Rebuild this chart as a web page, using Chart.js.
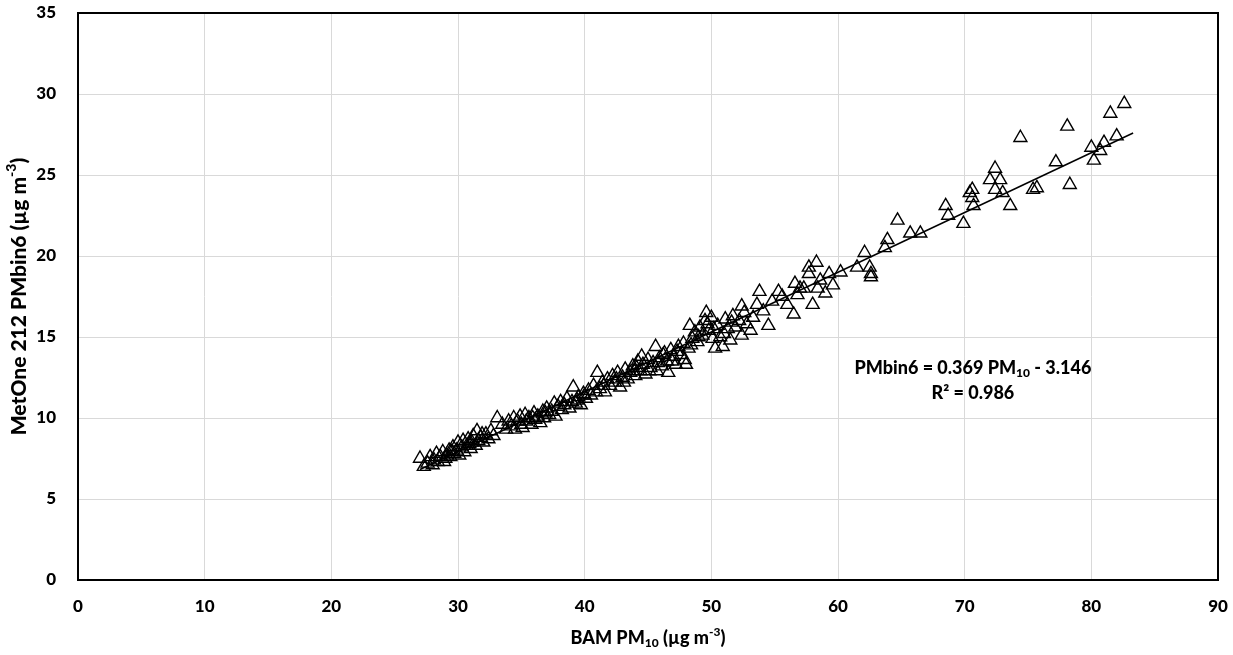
<!DOCTYPE html>
<html>
<head>
<meta charset="utf-8">
<script src="https://cdn.jsdelivr.net/npm/chart.js@4.4.0/dist/chart.umd.min.js"></script>
<style>
    html, body { margin: 0; padding: 0; background: #ffffff; }
    #wrap { position: relative; width: 1233px; height: 655px; }
</style>
</head>
<body>
<div id="wrap"><canvas id="pmChart"></canvas></div>
<script>
// BAM PM10 (x) vs MetOne 212 PMbin6 (y)
const bamPm10 = [
    27.0, 27.3, 27.6, 27.8, 28.0, 28.1, 28.3, 28.4, 28.6, 28.8,
    29.0, 29.1, 29.3, 29.4, 29.6, 29.7, 29.9, 30.0, 30.1, 30.3,
    30.4, 30.5, 30.7, 30.8, 31.0, 31.1, 31.2, 31.4, 31.5, 31.6,
    31.8, 32.0, 32.2, 32.4, 32.6, 32.8, 33.1, 33.5, 33.8, 34.0,
    34.2, 34.4, 34.5, 34.7, 34.9, 35.0, 35.1, 35.3, 35.4, 35.6,
    35.8, 36.0, 36.1, 36.3, 36.5, 36.7, 36.8, 37.0, 37.2, 37.4,
    37.6, 37.7, 37.9, 38.1, 38.2, 38.4, 38.6, 38.8, 39.0, 39.1,
    39.3, 39.5, 39.7, 39.9, 40.1, 40.3, 40.5, 40.7, 40.9, 41.0,
    41.2, 41.4, 41.6, 41.8, 42.0, 42.2, 42.4, 42.6, 42.8, 43.0,
    43.2, 43.4, 43.6, 43.8, 44.0, 44.2, 44.4, 44.6, 44.8, 45.0,
    45.2, 45.4, 45.6, 45.7, 45.9, 46.1, 46.3, 46.5, 46.6, 46.8,
    47.0, 47.2, 47.4, 47.6, 47.8, 48.0, 48.2, 48.3, 48.5, 48.7,
    48.9, 49.1, 49.3, 49.5, 49.6, 49.8, 50.0, 50.1, 50.3, 50.5,
    50.7, 50.9, 51.1, 51.3, 51.5, 51.7, 51.9, 52.2, 52.4, 52.4,
    52.6, 52.8, 53.1, 53.3, 53.6, 53.8, 54.1, 54.5, 54.8, 55.3,
    55.6, 56.0, 56.5, 56.6, 56.8, 57.0, 57.3, 57.7, 57.7, 58.0,
    58.3, 58.4, 58.6, 59.0, 59.3, 59.6, 60.2, 61.5, 62.1, 62.5,
    62.6, 62.6, 63.7, 63.9, 64.7, 65.7, 66.5, 68.5, 68.7, 69.9,
    70.4, 70.6, 70.6, 70.7, 72.0, 72.4, 72.4, 72.8, 73.0, 73.6,
    74.4, 75.4, 75.7, 77.2, 78.1, 78.3, 80.0, 80.2, 80.7, 81.0,
    81.5, 82.0, 82.6,
    43.1, 43.9, 44.5, 45.1, 45.8, 46.2, 46.9, 47.3, 47.9, 48.4,
    49.0, 49.7, 50.2, 51.0, 51.6, 44.1, 42.5, 41.5, 40.0, 39.4,
    36.9, 35.9, 31.9, 30.9, 29.5, 28.9
];
const metOneBin6 = [
    7.5, 7.0, 7.2, 7.6, 7.1, 7.4, 7.8, 7.3, 7.6, 7.9,
    7.5, 7.7, 8.0, 7.6, 8.2, 7.8, 8.0, 8.5, 7.7, 8.2,
    8.6, 7.9, 8.3, 8.7, 8.1, 8.5, 8.9, 8.3, 9.2, 8.6,
    8.8, 8.5, 9.0, 8.7, 9.2, 8.9, 10.0, 9.6, 9.3, 9.8,
    9.5, 10.0, 9.3, 9.8, 10.1, 9.6, 9.4, 10.2, 9.8, 10.0,
    9.6, 10.3, 9.9, 10.1, 9.7, 10.4, 10.0, 10.6, 10.2, 10.4,
    10.9, 10.1, 10.7, 11.0, 10.5, 10.8, 11.2, 10.6, 11.0, 11.9,
    10.9, 11.3, 10.8, 11.5, 11.2, 11.7, 11.4, 12.0, 11.6, 12.8,
    11.8, 12.2, 11.6, 12.4, 12.0, 12.6, 12.2, 12.8, 11.9, 12.5,
    13.0, 12.4, 12.8, 13.2, 12.6, 13.5, 12.9, 13.3, 12.7, 13.6,
    13.1, 13.4, 14.4, 12.9, 13.7, 13.2, 14.0, 13.5, 12.8, 14.2,
    13.8, 13.3, 14.4, 13.9, 14.6, 13.3, 14.3, 15.7, 14.9, 15.3,
    14.7, 15.6, 15.1, 16.0, 16.5, 15.4, 16.2, 14.9, 14.3, 15.7,
    15.0, 14.4, 16.1, 15.5, 14.8, 16.3, 15.6, 16.0, 16.9, 15.1,
    16.5, 15.8, 15.4, 16.2, 17.0, 17.8, 16.6, 15.7, 17.2, 17.8,
    17.5, 17.0, 16.4, 18.3, 17.6, 18.0, 18.0, 19.3, 18.9, 17.0,
    19.6, 18.0, 18.5, 17.7, 18.9, 18.2, 19.0, 19.3, 20.2, 19.3,
    18.9, 18.7, 20.5, 21.0, 22.2, 21.4, 21.4, 23.1, 22.5, 22.0,
    23.9, 24.1, 23.6, 23.1, 24.7, 25.4, 24.1, 24.7, 23.9, 23.1,
    27.3, 24.1, 24.2, 25.8, 28.0, 24.4, 26.7, 25.9, 26.5, 27.0,
    28.8, 27.4, 29.4,
    12.2, 12.9, 13.8, 12.9, 13.4, 13.9, 13.5, 14.1, 13.6, 14.5,
    15.0, 15.8, 15.5, 15.2, 15.9, 13.1, 12.4, 12.0, 11.4, 11.1,
    10.3, 10.0, 9.0, 8.4, 7.9, 7.3
];

// Linear fit drawn on the chart (end points)
const trendX = [27.0, 83.3];
const trendY = [6.82, 27.59];
const fitLabel = 'PMbin6 = 0.369 PM10 - 3.146';
const r2Label = 'R² = 0.986';

const FONT = "'Lato', 'Open Sans', sans-serif";
const WEIGHT = '900';
const TICK_SIZE = 17;
const TITLE_SIZE = 18;
const Y_TITLE_SIZE = 21;

const scatterPoints = bamPm10.map((x, i) => ({ x: x, y: metOneBin6[i] }));
const trendPoints = trendX.map((x, i) => ({ x: x, y: trendY[i] }));

// draw text made of parts; mode 'sub' / 'sup' gets smaller and shifted
function drawRich(ctx, parts, x, y, size) {
    const small = Math.round(size * 0.65);
    let total = 0;
    parts.forEach(p => {
        ctx.font = WEIGHT + ' ' + (p.m ? small : size) + 'px ' + FONT;
        p.w = ctx.measureText(p.t).width;
        total += p.w;
    });
    let cx = x - total / 2;
    ctx.textAlign = 'left';
    ctx.textBaseline = 'middle';
    parts.forEach(p => {
        ctx.font = WEIGHT + ' ' + (p.m ? small : size) + 'px ' + FONT;
        let dy = 0;
        if (p.m === 'sub') dy = size * 0.3;
        if (p.m === 'sup') dy = -size * 0.35;
        ctx.fillText(p.t, cx, y + dy);
        cx += p.w;
    });
}

const decorPlugin = {
    id: 'decor',
    afterDraw(chart) {
        const ctx = chart.ctx;
        const a = chart.chartArea;
        ctx.save();
        // frame round the plot
        ctx.strokeStyle = '#000000';
        ctx.lineWidth = 2;
        ctx.strokeRect(a.left, a.top, a.right - a.left, a.bottom - a.top);

        ctx.fillStyle = '#000000';
        // x axis title
        drawRich(ctx, [
            { t: 'BAM PM' }, { t: '10', m: 'sub' }, { t: ' (µg m' }, { t: '-3', m: 'sup' }, { t: ')' }
        ], (a.left + a.right) / 2, 638, TITLE_SIZE);

        // y axis title
        ctx.save();
        ctx.translate(19, (a.top + a.bottom) / 2);
        ctx.rotate(-Math.PI / 2);
        drawRich(ctx, [
            { t: 'MetOne 212 PMbin6 (µg m' }, { t: '-3', m: 'sup' }, { t: ')' }
        ], 0, 0, Y_TITLE_SIZE);
        ctx.restore();

        // regression text
        const tx = a.left + (a.right - a.left) * 0.785;
        drawRich(ctx, [
            { t: fitLabel.slice(0, 17) }, { t: '10', m: 'sub' }, { t: fitLabel.slice(19) }
        ], tx, a.top + (a.bottom - a.top) * 0.626, TITLE_SIZE);
        drawRich(ctx, [{ t: r2Label }], tx, a.top + (a.bottom - a.top) * 0.67, TITLE_SIZE);
        ctx.restore();
    }
};

const ctxPm = document.getElementById('pmChart').getContext('2d');
const pmChart = new Chart(ctxPm, {
    type: 'scatter',
    data: {
        datasets: [
            {
                type: 'line',
                data: trendPoints,
                borderColor: '#000000',
                borderWidth: 1.5,
                pointRadius: 0,
                fill: false,
                tension: 0
            },
            {
                data: scatterPoints,
                pointStyle: 'triangle',
                pointRadius: 7.5,
                pointBorderColor: '#000000',
                pointBackgroundColor: 'rgba(255,255,255,0)',
                pointBorderWidth: 1.4
            }
        ]
    },
    options: {
        responsive: true,
        maintainAspectRatio: false,
        animation: false,
        layout: { padding: { top: 13, right: 15, left: 0, bottom: 0 } },
        plugins: {
            legend: { display: false },
            tooltip: { enabled: false }
        },
        scales: {
            x: {
                type: 'linear',
                min: 0,
                max: 90,
                afterFit: s => {
                    s.height = 75;
                    s.paddingLeft = 0;
                    s.paddingRight = 0;
                },
                ticks: {
                    stepSize: 10,
                    color: '#000000',
                    padding: 16,
                    font: { family: FONT, size: TICK_SIZE, weight: WEIGHT }
                },
                grid: { color: '#d9d9d9', lineWidth: 1, drawTicks: false },
                border: { display: false }
            },
            y: {
                min: 0,
                max: 35,
                afterFit: s => {
                    s.width = 78;
                    s.paddingTop = 0;
                    s.paddingBottom = 0;
                },
                ticks: {
                    stepSize: 5,
                    color: '#000000',
                    padding: 22,
                    font: { family: FONT, size: TICK_SIZE, weight: WEIGHT }
                },
                grid: { color: '#d9d9d9', lineWidth: 1, drawTicks: false },
                border: { display: false }
            }
        }
    },
    plugins: [decorPlugin]
});
</script>
</body>
</html>
